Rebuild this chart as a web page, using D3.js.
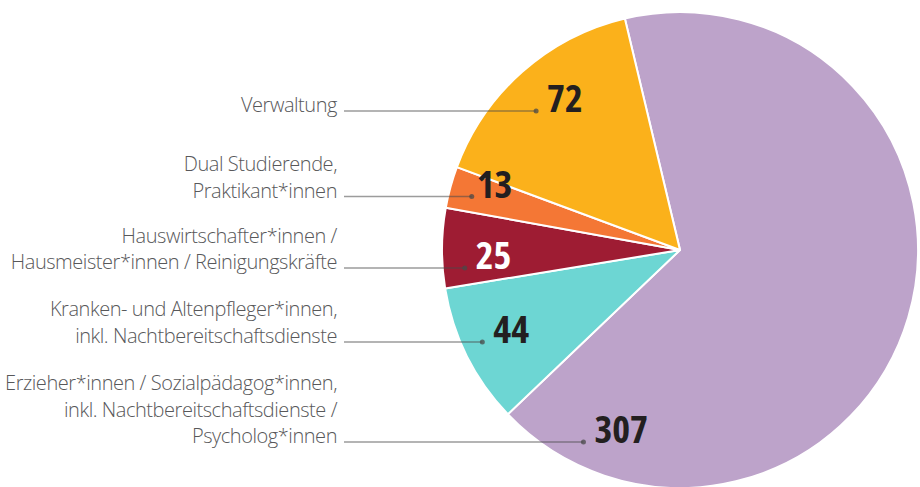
<!DOCTYPE html>
<html>
<head>
<meta charset="utf-8">
<script src="https://cdn.jsdelivr.net/npm/d3@7"></script>
<style>
  body { margin: 0; background: #fff; }
  svg text { font-family: "Open Sans", "Liberation Sans Narrow", sans-serif; }
</style>
</head>
<body>
<svg id="chart"></svg>
<script>
// data, clockwise from the top
const categories = [
  ['Erzieher*innen / Sozialpädagog*innen,', 'inkl. Nachtbereitschaftsdienste /', 'Psycholog*innen'],
  ['Kranken- und Altenpfleger*innen,', 'inkl. Nachtbereitschaftsdienste'],
  ['Hauswirtschafter*innen /', 'Hausmeister*innen / Reinigungskräfte'],
  ['Dual Studierende,', 'Praktikant*innen'],
  ['Verwaltung']
];
const values = [307, 44, 25, 13, 72];
const colors = ['#bda3ca', '#6dd6d3', '#9e1c33', '#f47735', '#fbb11b'];
const valueColors = ['#231f20', '#231f20', '#ffffff', '#231f20', '#231f20'];

// where the leader dot sits inside each slice (fraction of slice angle, radius)
const anchorPos = [0.918, 0.545, 0.23, 0.41, 0.42];
const anchorRad = [215, 218, 216, 215, 200];

const width = 920, height = 487;
const cx = 680, cy = 250, radius = 238;
const labelRight = 337;
const lineStart = 344;
const lineHeight = 26.5;

const svg = d3.select('#chart').attr('width', width).attr('height', height);
const g = svg.append('g').attr('transform', `translate(${cx},${cy})`);

const start = -13.4 * Math.PI / 180;
const pie = d3.pie().sort(null).startAngle(start).endAngle(start + 2 * Math.PI);
const arcs = pie(values);
const arc = d3.arc().innerRadius(0).outerRadius(radius);

g.selectAll('path.slice')
  .data(arcs)
  .enter()
  .append('path')
  .attr('class', 'slice')
  .attr('d', arc)
  .attr('fill', (d, i) => colors[i])
  .attr('stroke', '#fff')
  .attr('stroke-width', 2)
  .attr('stroke-linejoin', 'round');

// anchor points
const anchors = arcs.map((d, i) => {
  const a = d.startAngle + (d.endAngle - d.startAngle) * anchorPos[i];
  return [cx + anchorRad[i] * Math.sin(a), cy - anchorRad[i] * Math.cos(a)];
});

// leader lines
svg.selectAll('line.leader')
  .data(anchors)
  .enter()
  .append('line')
  .attr('x1', lineStart)
  .attr('x2', (d) => d[0])
  .attr('y1', (d) => d[1])
  .attr('y2', (d) => d[1])
  .attr('stroke', '#4a4a4a')
  .attr('stroke-opacity', 0.55)
  .attr('stroke-width', 1.5);

svg.selectAll('circle.dot')
  .data(anchors)
  .enter()
  .append('circle')
  .attr('cx', (d) => d[0])
  .attr('cy', (d) => d[1])
  .attr('r', 2.5)
  .attr('fill', '#4a4a4a')
  .attr('fill-opacity', 0.75);

// category labels, last line sits on the leader
categories.forEach((lines, i) => {
  const y = anchors[i][1] + 1;
  const t = svg.append('text')
    .attr('text-anchor', 'end')
    .attr('font-size', 20)
    .attr('font-weight', 300)
    .attr('letter-spacing', -0.45)
    .style('font-stretch', '92%')
    .attr('fill', '#58585a');
  lines.forEach((ln, j) => {
    t.append('tspan')
      .attr('x', labelRight)
      .attr('y', y - (lines.length - 1 - j) * lineHeight)
      .text(ln);
  });
});

// values
svg.selectAll('text.val')
  .data(values)
  .enter()
  .append('text')
  .attr('class', 'val')
  .attr('x', (d, i) => anchors[i][0] + (i === 3 ? 5 : 11))
  .attr('y', (d, i) => anchors[i][1] + 1)
  .attr('font-size', 38)
  .attr('font-weight', 700)
  .style('font-stretch', '75%')
  .attr('fill', (d, i) => valueColors[i])
  .text((d) => d);
</script>
</body>
</html>
